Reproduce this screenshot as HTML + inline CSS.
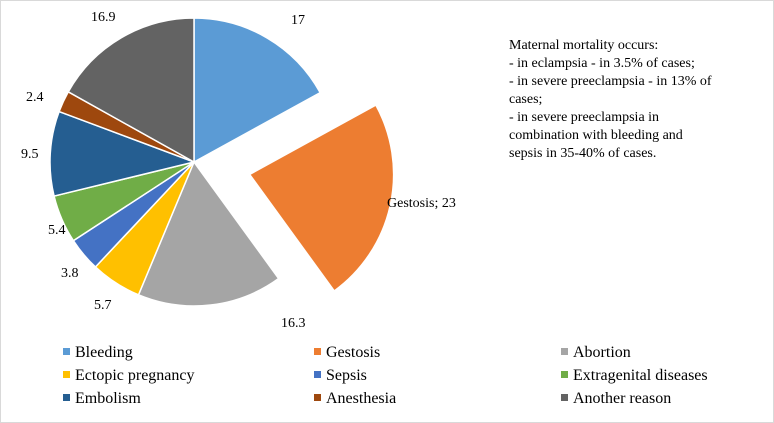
<!DOCTYPE html>
<html><head><meta charset="utf-8"><style>
body{margin:0;background:#fff}
#c{position:relative;width:772px;height:421px;border:1px solid #d9d9d9;font-family:"Liberation Serif",serif;color:#000;overflow:hidden}
.t{position:absolute;font-size:14px;white-space:nowrap}
.lg{position:absolute;font-size:16px;white-space:nowrap}
.sq{display:inline-block;width:7px;height:7px;margin-right:5px;vertical-align:2px}
</style></head><body><div id="c">
<svg id="s" width="772" height="421" style="position:absolute;left:0;top:0"></svg>
<div class="t" style="left:290px;top:12px">17</div>
<div class="t" style="left:386px;top:195px">Gestosis; 23</div>
<div class="t" style="left:280px;top:315px">16.3</div>
<div class="t" style="left:93px;top:297px">5.7</div>
<div class="t" style="left:60px;top:265px">3.8</div>
<div class="t" style="left:47px;top:222px">5.4</div>
<div class="t" style="left:20px;top:146px">9.5</div>
<div class="t" style="left:25px;top:89px">2.4</div>
<div class="t" style="left:90px;top:9px">16.9</div>
<div class="t" style="left:508px;top:36px;line-height:18px;font-size:14px">Maternal mortality occurs:<br>- in eclampsia - in 3.5% of cases;<br>- in severe preeclampsia - in 13% of<br>cases;<br>- in severe preeclampsia in<br>combination with bleeding and<br>sepsis in 35-40% of cases.</div>
<div class="lg" style="left:62px;top:343px"><span class="sq" style="background:#5B9BD5"></span>Bleeding</div>
<div class="lg" style="left:313px;top:343px"><span class="sq" style="background:#ED7D31"></span>Gestosis</div>
<div class="lg" style="left:560px;top:343px"><span class="sq" style="background:#A5A5A5"></span>Abortion</div>
<div class="lg" style="left:62px;top:366px"><span class="sq" style="background:#FFC000"></span>Ectopic pregnancy</div>
<div class="lg" style="left:313px;top:366px"><span class="sq" style="background:#4472C4"></span>Sepsis</div>
<div class="lg" style="left:560px;top:366px"><span class="sq" style="background:#70AD47"></span>Extragenital diseases</div>
<div class="lg" style="left:62px;top:389px"><span class="sq" style="background:#255E91"></span>Embolism</div>
<div class="lg" style="left:313px;top:389px"><span class="sq" style="background:#9E480E"></span>Anesthesia</div>
<div class="lg" style="left:560px;top:389px"><span class="sq" style="background:#636363"></span>Another reason</div>
</div>
<script>
var v=[17,23,16.3,5.7,3.8,5.4,9.5,2.4,16.9];
var c=["#5B9BD5","#ED7D31","#A5A5A5","#FFC000","#4472C4","#70AD47","#255E91","#9E480E","#636363"];
var cx=193,cy=161,r=144,a=0,h="";
for(var i=0;i<v.length;i++){
 var a0=a/100*2*Math.PI,a1=(a+v[i])/100*2*Math.PI,m=(a0+a1)/2;
 var ox=0,oy=0;if(i==1){ox=57*Math.sin(m);oy=-57*Math.cos(m);}
 var x=cx+ox,y=cy+oy;
 var x0=x+r*Math.sin(a0),y0=y-r*Math.cos(a0),x1=x+r*Math.sin(a1),y1=y-r*Math.cos(a1);
 h+='<path d="M'+x+','+y+' L'+x0+','+y0+' A'+r+','+r+' 0 '+((a1-a0)>Math.PI?1:0)+' 1 '+x1+','+y1+' Z" fill="'+c[i]+'" stroke="#fff" stroke-width="1.5"/>';
 a+=v[i];
}
document.getElementById("s").innerHTML=h;
</script>
</body></html>
